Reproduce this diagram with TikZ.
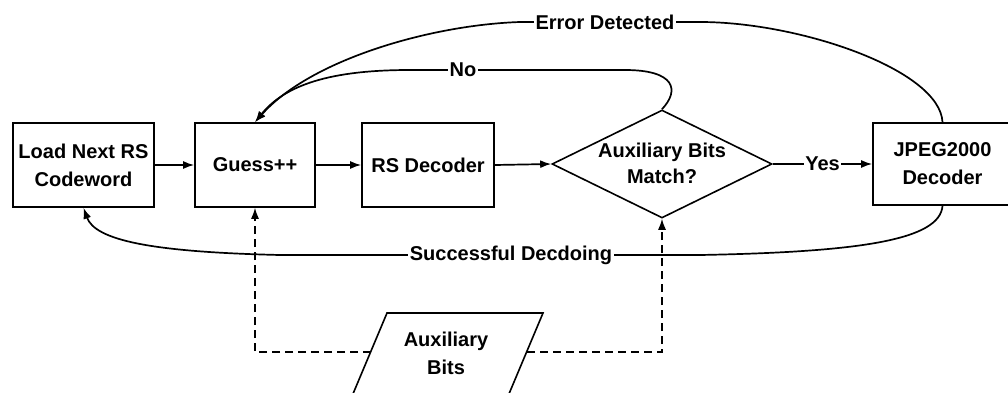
\documentclass[tikz,border=0pt]{standalone}
\usepackage{fontspec}
\setmainfont{Liberation Sans}
\usetikzlibrary{arrows.meta,shapes.geometric}
\begin{document}
\begin{tikzpicture}[x=1pt,y=-1pt,
  every node/.style={font=\fontsize{20}{28}\selectfont\bfseries},
  blk/.style={draw, line width=1.6pt, minimum height=84pt, align=center, inner sep=0pt},
  flow/.style={line width=1.7pt, -{Latex[length=11pt,width=8pt]}},
  aux/.style={line width=1.3pt, dash pattern=on 8pt off 5pt, -{Latex[length=11pt,width=8pt]}},
  tag/.style={fill=white, inner sep=1.5pt}]
\useasboundingbox (0,0) rectangle (1008,393);
\clip (0,0) rectangle (1008,393);

% process blocks
\node[blk, minimum width=141pt] (load) at (83.5,165) {Load Next RS\\Codeword};
\node[blk, minimum width=120pt] (gs) at (255,165) {Guess++};
\node[blk, minimum width=132pt] (rs) at (428,165) {RS Decoder};
\node[draw, diamond, line width=1.6pt, minimum width=220pt, minimum height=108pt, inner sep=0pt] (chk) at (662,164) {};
\node[align=center, font=\fontsize{20}{26}\selectfont\bfseries] (chktxt) at (662,163) {Auxiliary Bits\\Match?};
\node[blk, minimum width=139pt, minimum height=82pt] (jp) at (942.5,164) {JPEG2000\\Decoder};

% side input
\draw[line width=1.6pt] (387,313) -- (543,313) -- (498,420) -- (342,420) -- cycle;
\node[align=center] (auxbits) at (446,353) {Auxiliary\\Bits};
\coordinate (auxL) at (371,352);
\coordinate (auxR) at (527,352);

% main chain
\draw[flow] (load.east) -- (gs.west);
\draw[flow] (gs.east) -- (rs.west);
\draw[flow] (rs.east) -- (chk.west);
\draw[flow] (chk.east) -- node[tag]{Yes} (jp.west);

% auxiliary bits feed
\draw[aux] (auxL) -| (gs.south);
\draw[aux] (auxR) -| (chk.south);

% feedback loops
\draw[flow] (jp.north) .. controls (940,70) and (800,22) .. (700,22)
  -- (605,22) node[tag]{Error Detected} -- (520,22)
  .. controls (430,25) and (310,60) .. (gs.north);
\draw[flow] (chk.north) .. controls (680,90) and (675,70) .. (625,70)
  -- (463,70) node[tag]{No} -- (410,70)
  .. controls (330,70) and (285,85) .. (gs.north);
\draw[flow] (jp.south) .. controls (940,240) and (860,252) .. (700,255)
  -- (511,255) node[tag]{Successful Decdoing} -- (280,255)
  .. controls (150,252) and (95,240) .. (load.south);
\end{tikzpicture}
\end{document}
